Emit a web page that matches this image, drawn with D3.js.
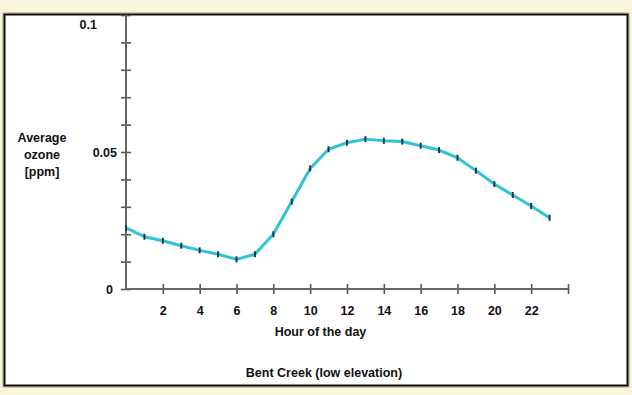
<!DOCTYPE html>
<html>
<head>
<meta charset="utf-8">
<script src="https://cdn.jsdelivr.net/npm/d3@7"></script>
<style>
  body { margin: 0; background: #faf6dc; }
  svg { display: block; }
  text { font-family: "Liberation Sans", Arial, sans-serif; font-weight: bold; font-size: 12.5px; fill: #111; }
</style>
</head>
<body>
<div id="chart"></div>
<script>
// hour of the day and average ozone (ppm)
var hours = [0, 1, 2, 3, 4, 5, 6, 7, 8, 9, 10, 11, 12, 13, 14, 15, 16, 17, 18, 19, 20, 21, 22, 23];
var ozone = [0.0223, 0.0191, 0.0176, 0.0158, 0.0141, 0.0127, 0.0108, 0.0127, 0.0200, 0.0319,
             0.0440, 0.0510, 0.0534, 0.0547, 0.0541, 0.0538, 0.0523, 0.0507, 0.0479, 0.0432,
             0.0383, 0.0343, 0.0303, 0.0260];
var xTicks = [2, 4, 6, 8, 10, 12, 14, 16, 18, 20, 22, 24];
var yTicks = [0, 0.01, 0.02, 0.03, 0.04, 0.05, 0.06, 0.07, 0.08, 0.09, 0.1];
var yLabelled = [0, 0.05, 0.1];
var yTitle = ["Average", "ozone", "[ppm]"];
var xTitle = "Hour of the day";
var chartTitle = "Bent Creek (low elevation)";

var svgWidth = 632, svgHeight = 395;
var margin = { top: 15, right: 64, bottom: 106, left: 126 };
var width = svgWidth - margin.left - margin.right;
var height = svgHeight - margin.top - margin.bottom;
var fontSize = "12.5px";

var svg = d3.select("#chart").append("svg")
    .attr("width", svgWidth)
    .attr("height", svgHeight);

// framed white panel
svg.append("rect")
    .attr("x", 3).attr("y", 13)
    .attr("width", 626).attr("height", 374)
    .attr("fill", "none").attr("stroke", "#9a9a8a").attr("stroke-width", 1);
svg.append("rect")
    .attr("x", 4.5).attr("y", 14.5)
    .attr("width", 623).attr("height", 371)
    .attr("fill", "#fff").attr("stroke", "#111").attr("stroke-width", 2);

var g = svg.append("g")
    .attr("transform", "translate(" + margin.left + "," + margin.top + ")");

var x = d3.scaleLinear().domain([0, 24]).range([0, width]);
var y = d3.scaleLinear().domain([0, 0.1]).range([height, 0]);

// axes: ticks cross the axis line on both sides
var xAxis = d3.axisBottom(x)
    .tickValues(xTicks)
    .tickSize(5)
    .tickPadding(12)
    .tickFormat(function(d) { return d === 24 ? "" : d; });

var yAxis = d3.axisLeft(y)
    .tickValues(yTicks)
    .tickSize(5)
    .tickPadding(4)
    .tickFormat(function(d) {
        return yLabelled.indexOf(d) >= 0 ? d3.format("")(d) : "";
    });

var xAxisGroup = g.append("g")
    .attr("transform", "translate(0," + height + ")")
    .call(xAxis);
xAxisGroup.selectAll(".tick line").attr("y1", -5);

var yAxisGroup = g.append("g").call(yAxis);
yAxisGroup.selectAll(".tick line").attr("x1", 5);

[xAxisGroup, yAxisGroup].forEach(function(ax) {
    ax.select(".domain").remove();
    ax.selectAll(".tick line").attr("stroke", "#555").attr("stroke-width", 1.6);
    ax.selectAll("text").attr("fill", "#111").attr("font-size", fontSize)
        .attr("font-family", "'Liberation Sans', Arial, sans-serif").attr("font-weight", "bold");
});
g.append("line")
    .attr("x1", x(0)).attr("x2", x(24))
    .attr("y1", y(0)).attr("y2", y(0))
    .attr("stroke", "#666").attr("stroke-width", 2);
g.append("line")
    .attr("x1", x(0)).attr("x2", x(0))
    .attr("y1", y(0)).attr("y2", y(0.1))
    .attr("stroke", "#666").attr("stroke-width", 2);

// top label sits below the frame edge
yAxisGroup.selectAll(".tick text")
    .filter(function(d) { return d === 0.1; })
    .attr("x", -29).attr("dy", "1.1em");
yAxisGroup.selectAll(".tick text")
    .filter(function(d) { return d === 0; })
    .attr("x", -13);

// line and point markers
var line = d3.line()
    .x(function(d, i) { return x(hours[i]); })
    .y(function(d) { return y(d); });

g.append("path")
    .datum(ozone)
    .attr("fill", "none")
    .attr("stroke", "#2fc4d4")
    .attr("stroke-width", 3)
    .attr("stroke-linejoin", "round")
    .attr("d", line);

g.selectAll(".marker")
    .data(ozone)
    .enter()
    .append("line")
    .attr("class", "marker")
    .attr("x1", function(d, i) { return x(hours[i]); })
    .attr("x2", function(d, i) { return x(hours[i]); })
    .attr("y1", function(d) { return y(d) - 3; })
    .attr("y2", function(d) { return y(d) + 3; })
    .attr("stroke", "#1d3550")
    .attr("stroke-width", 2);

// titles
svg.append("g").selectAll("text")
    .data(yTitle)
    .enter()
    .append("text")
    .attr("x", 42)
    .attr("y", function(d, i) { return 142 + i * 17; })
    .attr("text-anchor", "middle")
    .text(function(d) { return d; });

svg.append("text")
    .attr("x", margin.left + width * 0.44)
    .attr("y", 336)
    .attr("text-anchor", "middle")
    .text(xTitle);

svg.append("text")
    .attr("x", 324)
    .attr("y", 377)
    .attr("text-anchor", "middle")
    .text(chartTitle);
</script>
</body>
</html>
